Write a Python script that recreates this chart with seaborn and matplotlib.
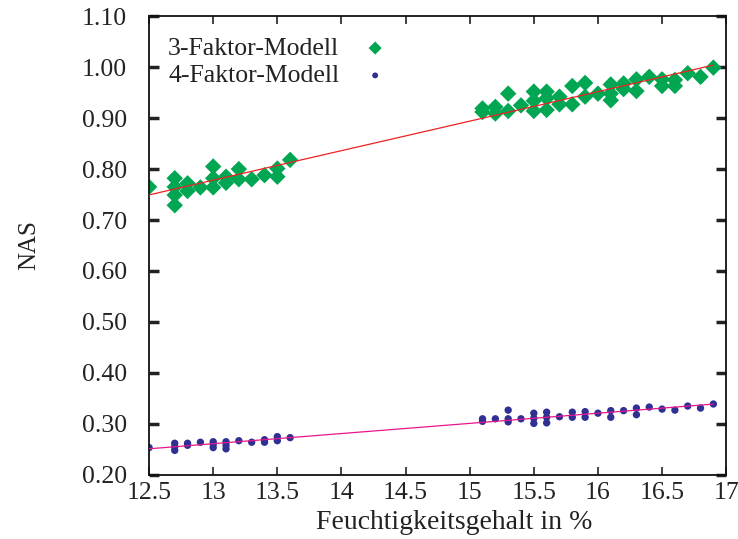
import seaborn as sns
import matplotlib.pyplot as plt
import pandas as pd
import numpy as np

# 3-Faktor-Modell
x3 = [12.5, 12.7, 12.7, 12.7, 12.7, 12.8, 12.8, 12.9, 13.0, 13.0, 13.0,
      13.1, 13.1, 13.2, 13.2, 13.3, 13.4, 13.5, 13.5, 13.6,
      15.1, 15.1, 15.2, 15.2, 15.3, 15.3, 15.4, 15.5, 15.5, 15.5,
      15.6, 15.6, 15.6, 15.7, 15.7, 15.8, 15.8, 15.9, 15.9, 16.0,
      16.1, 16.1, 16.1, 16.2, 16.2, 16.3, 16.3, 16.4, 16.5, 16.5,
      16.6, 16.6, 16.7, 16.8, 16.9]
y3 = [0.765, 0.782, 0.765, 0.749, 0.729, 0.772, 0.757, 0.764, 0.805, 0.782, 0.764,
      0.785, 0.773, 0.800, 0.780, 0.780, 0.788, 0.801, 0.785, 0.818,
      0.919, 0.912, 0.922, 0.909, 0.948, 0.914, 0.925, 0.952, 0.934, 0.914,
      0.952, 0.939, 0.916, 0.942, 0.927, 0.963, 0.927, 0.969, 0.942, 0.948,
      0.966, 0.948, 0.935, 0.968, 0.957, 0.976, 0.953, 0.981, 0.976, 0.963,
      0.975, 0.963, 0.988, 0.981, 0.999]

# 4-Faktor-Modell
x4 = [12.5, 12.7, 12.7, 12.7, 12.8, 12.8, 12.9, 13.0, 13.0, 13.0,
      13.1, 13.1, 13.1, 13.2, 13.3, 13.4, 13.4, 13.5, 13.5, 13.6,
      15.1, 15.1, 15.2, 15.3, 15.3, 15.3, 15.4, 15.5, 15.5, 15.5,
      15.6, 15.6, 15.6, 15.7, 15.8, 15.8, 15.9, 15.9, 16.0,
      16.1, 16.1, 16.2, 16.3, 16.3, 16.4, 16.5, 16.6, 16.7, 16.8, 16.9]
y4 = [0.2535, 0.262, 0.255, 0.248, 0.262, 0.258, 0.264, 0.265, 0.260, 0.2535,
      0.265, 0.258, 0.251, 0.267, 0.264, 0.269, 0.264, 0.275, 0.267, 0.273,
      0.310, 0.305, 0.310, 0.327, 0.310, 0.304, 0.310, 0.321, 0.311, 0.301,
      0.323, 0.313, 0.302, 0.314, 0.323, 0.313, 0.324, 0.313, 0.321,
      0.326, 0.313, 0.326, 0.331, 0.318, 0.333, 0.329, 0.327, 0.335, 0.331, 0.339]

xticks = [12.5, 13, 13.5, 14, 14.5, 15, 15.5, 16, 16.5, 17]
xticklabels = ["12.5", "13", "13.5", "14", "14.5", "15", "15.5", "16", "16.5", "17"]
yticks = [0.2, 0.3, 0.4, 0.5, 0.6, 0.7, 0.8, 0.9, 1.0, 1.1]

df3 = pd.DataFrame({"x": x3, "y": y3})
df4 = pd.DataFrame({"x": x4, "y": y4})

sns.set_theme(style="ticks")
plt.rcParams['font.family'] = ['Liberation Serif', 'DejaVu Serif']

fig, ax = plt.subplots(figsize=(7.38, 5.39), dpi=100)
fig.subplots_adjust(left=0.202, right=0.984, top=0.970, bottom=0.119)

sns.regplot(data=df3, x="x", y="y", scatter=False, ci=None, ax=ax,
            line_kws={"color": "#ee2222", "lw": 0.9, "zorder": 3})
sns.regplot(data=df4, x="x", y="y", scatter=False, ci=None, ax=ax,
            line_kws={"color": "#e8168c", "lw": 0.9, "zorder": 3})

sns.scatterplot(data=df3, x="x", y="y", marker="D", s=70, color="#00a651",
                edgecolor="none", ax=ax, label="3-Faktor-Modell", zorder=2)
sns.scatterplot(data=df4, x="x", y="y", marker="o", s=28, color="#2e3192",
                edgecolor="none", ax=ax, label="4-Faktor-Modell", zorder=2)

ax.set_xlim(12.5, 17)
ax.set_ylim(0.2, 1.1)
ax.set_xticks(xticks)
ax.set_xticklabels(xticklabels)
ax.set_yticks(yticks)
ax.set_yticklabels([f"{v:.2f}" for v in yticks])
ax.tick_params(direction="in", top=True, right=True, length=6, width=1.2,
               labelsize=18.5, colors="#222222")
ax.tick_params(axis="y", width=2.5, length=7, pad=16)
ax.tick_params(axis="x", pad=5)
for sp in ax.spines.values():
    sp.set_visible(True)
    sp.set_linewidth(1.3)
    sp.set_color("#111111")

ax.set_xlabel("Feuchtigkeitsgehalt in %", fontsize=20, labelpad=0, color="#222222")
ax.xaxis.set_label_coords(0.529, -0.076)
ax.set_ylabel("NAS", fontsize=18, labelpad=30, color="#222222")

leg = ax.legend(loc="upper left", frameon=False, markerfirst=False, fontsize=18.5,
                handletextpad=0.4, handlelength=2.0, borderaxespad=0, borderpad=0,
                labelspacing=0.17, markerscale=0.8,
                bbox_to_anchor=(19 / 578, 0.955))
for t in leg.get_texts():
    t.set_color("#222222")

fig.savefig("out.png", dpi=100)
